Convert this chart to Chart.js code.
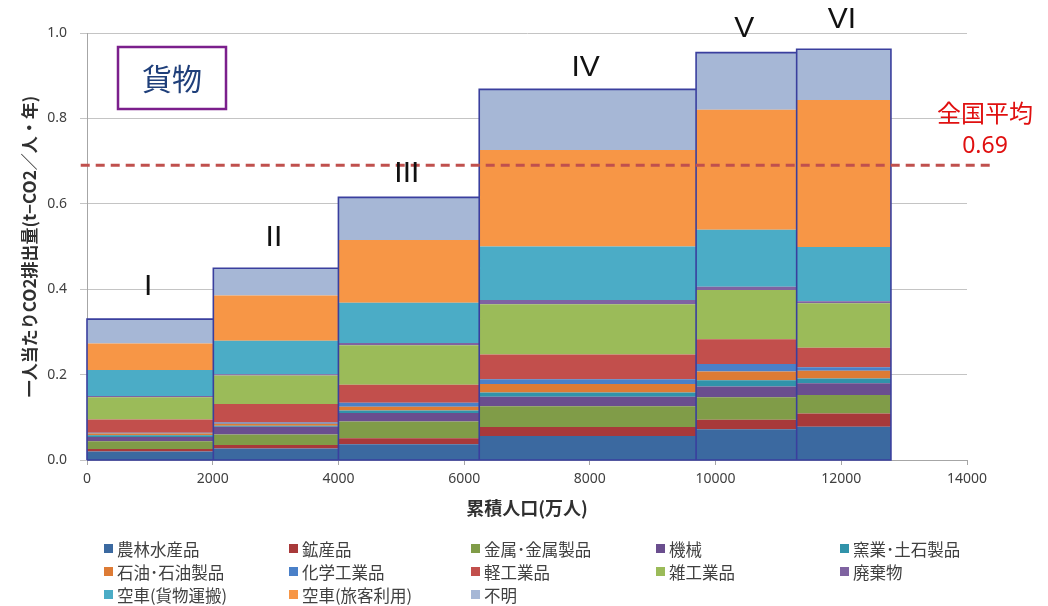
<!DOCTYPE html>
<html>
<head>
<meta charset="utf-8">
<script src="https://cdn.jsdelivr.net/npm/chart.js@4.4.0/dist/chart.umd.min.js"></script>
<style>
  body { margin: 0; background: #fff; }
  #wrap { position: relative; width: 1048px; height: 606px; }
  #legend {
    position: absolute; left: 104px; top: 537px;
    display: grid; grid-template-columns: 185px 182px 185px 184px 190px; grid-auto-rows: 23px;
    font: 16.5px "Noto Sans CJK JP", sans-serif; color: #404040;
  }
  #legend div { display: flex; align-items: center; white-space: nowrap; }
  #legend span { display: inline-block; width: 9px; height: 9px; margin-right: 4px; }
</style>
</head>
<body>
<div id="wrap">
  <canvas id="myChart"></canvas>
  <div id="legend"></div>
</div>
<script>
// 品目別・人口規模グループ別の一人当たり貨物CO2排出量
var groupNames = ["I", "II", "III", "IV", "V", "VI"];
// 累積人口(万人)によるグループ境界
var popEdges = [0, 2010, 4000, 6240, 9690, 11290, 12790];

var categories = ["農林水産品", "鉱産品", "金属･金属製品", "機械", "窯業･土石製品",
  "石油･石油製品", "化学工業品", "軽工業品", "雑工業品", "廃棄物",
  "空車(貨物運搬)", "空車(旅客利用)", "不明"];

var agri           = [0.020, 0.027, 0.037, 0.056, 0.072, 0.078];
var mining         = [0.006, 0.008, 0.014, 0.021, 0.022, 0.031];
var metal          = [0.018, 0.025, 0.039, 0.049, 0.053, 0.043];
var machinery      = [0.010, 0.018, 0.020, 0.022, 0.025, 0.028];
var ceramic        = [0.004, 0.002, 0.006, 0.010, 0.015, 0.011];
var petroleum      = [0.004, 0.005, 0.009, 0.020, 0.020, 0.018];
var chemical       = [0.002, 0.003, 0.009, 0.011, 0.018, 0.008];
var lightInd       = [0.031, 0.043, 0.042, 0.058, 0.058, 0.046];
var miscInd        = [0.052, 0.067, 0.093, 0.118, 0.115, 0.104];
var waste          = [0.003, 0.003, 0.005, 0.010, 0.008, 0.005];
var emptyFreight   = [0.061, 0.078, 0.094, 0.125, 0.133, 0.127];
var emptyPassenger = [0.062, 0.106, 0.147, 0.226, 0.281, 0.344];
var unknown        = [0.057, 0.064, 0.100, 0.142, 0.134, 0.119];

var nationalAvg = 0.69;

var seriesValues = [agri, mining, metal, machinery, ceramic, petroleum, chemical,
  lightInd, miscInd, waste, emptyFreight, emptyPassenger, unknown];

var colors = ["#3b69a0", "#a8393a", "#809c48", "#6a4e8e", "#3193aa", "#dd7b35",
  "#4a80c8", "#c24f4c", "#9bbb59", "#7f63a1", "#4bacc6", "#f79646", "#a6b7d6"];

// 各層を階段状の線にして、前の層との間を塗る
var cum = groupNames.map(function(){ return 0; });
var layerSets = seriesValues.map(function(vals, k) {
  var pts = [];
  vals.forEach(function(v, g) {
    cum[g] += v;
    pts.push({x: popEdges[g], y: cum[g]}, {x: popEdges[g + 1], y: cum[g]});
  });
  return {
    label: categories[k],
    data: pts,
    backgroundColor: colors[k],
    borderColor: "transparent",
    borderWidth: 0,
    pointRadius: 0,
    fill: k === 0 ? "origin" : "-1"
  };
});
var totals = cum.slice();

// グループの枠線
var outline = [{x: popEdges[0], y: 0}];
totals.forEach(function(t, g) {
  outline.push({x: popEdges[g], y: t}, {x: popEdges[g + 1], y: t}, {x: popEdges[g + 1], y: 0});
});
outline.push({x: popEdges[0], y: 0});

var textMarks = {
  id: "textMarks",
  afterDatasetsDraw: function(chart) {
    var ctx = chart.ctx, x = chart.scales.x, y = chart.scales.y;
    ctx.save();
    // グループ名
    var gaps = [32, 31, 24, 22, 24, 29];
    ctx.font = '30px "Liberation Sans", sans-serif';
    ctx.fillStyle = "#111";
    ctx.textAlign = "center";
    ctx.textBaseline = "middle";
    groupNames.forEach(function(name, g) {
      var cx = x.getPixelForValue((popEdges[g] + popEdges[g + 1]) / 2) - 2;
      ctx.fillText(name, cx, y.getPixelForValue(totals[g]) - gaps[g]);
    });
    // 貨物ラベル
    ctx.strokeStyle = "#7b1f8c";
    ctx.lineWidth = 2.5;
    ctx.strokeRect(118, 47, 108, 62);
    ctx.fillStyle = "#1f3f7a";
    ctx.font = '30px "Noto Sans CJK JP", sans-serif';
    ctx.fillText("貨物", 172, 79);
    // 全国平均
    var ay = y.getPixelForValue(nationalAvg);
    ctx.fillStyle = "#e01010";
    ctx.font = '24px "Noto Sans CJK JP", sans-serif';
    ctx.fillText("全国平均", 985, ay - 52);
    ctx.font = '23px "Noto Sans", sans-serif';
    ctx.fillText(nationalAvg.toFixed(2), 985, ay - 19);
    ctx.restore();
  }
};

Chart.defaults.font.family = '"Noto Sans", "Noto Sans CJK JP", sans-serif';

new Chart("myChart", {
  type: "line",
  data: {
    datasets: layerSets.concat([
      {
        label: "outline",
        data: outline,
        borderColor: "#3a3f9e",
        borderWidth: 1.6,
        pointRadius: 0,
        fill: false,
        clip: false,
        order: -1
      },
      {
        label: "avg",
        data: [{x: -100, y: nationalAvg}, {x: 14370, y: nationalAvg}],
        borderColor: "#c0504d",
        borderWidth: 3,
        borderDash: [9, 6],
        pointRadius: 0,
        fill: false,
        clip: false,
        order: -2
      }
    ])
  },
  options: {
    responsive: true,
    maintainAspectRatio: false,
    animation: false,
    layout: { padding: { left: 10, right: 81, top: 33, bottom: 82 } },
    plugins: {
      legend: { display: false },
      tooltip: { enabled: false }
    },
    scales: {
      x: {
        type: "linear",
        min: 0, max: 14000,
        afterFit: function(scale) { scale.height = 64; },
        ticks: {
          stepSize: 2000,
          padding: 6,
          color: "#404040",
          font: { size: 14 },
          callback: function(v) { return String(v); }
        },
        grid: { drawOnChartArea: false, drawTicks: true, tickLength: 5, color: "#a6a6a6" },
        border: { color: "#a6a6a6" },
        title: {
          display: true,
          text: "累積人口(万人)",
          color: "#303030",
          font: { size: 18, weight: "bold", family: '"Noto Sans CJK JP", sans-serif' },
          padding: { top: 0, bottom: 5 }
        }
      },
      y: {
        min: 0, max: 1,
        afterFit: function(scale) { scale.width = 77; },
        ticks: {
          stepSize: 0.2,
          padding: 13,
          color: "#404040",
          font: { size: 14 },
          callback: function(v) { return v.toFixed(1); }
        },
        grid: { color: "#c4c4c4", tickLength: 7 },
        border: { color: "#a6a6a6" },
        title: {
          display: true,
          text: "一人当たりCO2排出量(t−CO2／人・年)",
          color: "#303030",
          font: { size: 17, weight: "bold", family: '"Noto Sans CJK JP", sans-serif' },
          padding: { top: 9, bottom: 0 }
        }
      }
    }
  },
  plugins: [textMarks]
});

// 凡例
var legend = document.getElementById("legend");
categories.forEach(function(name, k) {
  var item = document.createElement("div");
  item.innerHTML = '<span style="background:' + colors[k] + '"></span>' + name;
  legend.appendChild(item);
});
</script>
</body>
</html>
